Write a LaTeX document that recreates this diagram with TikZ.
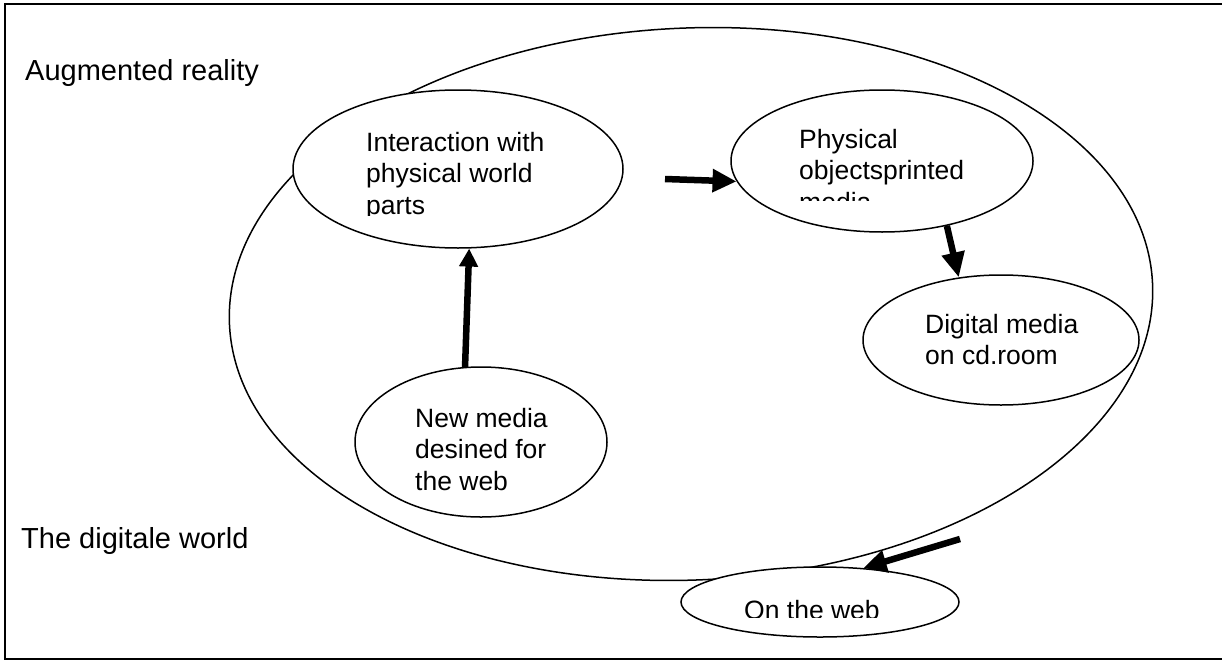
\documentclass[tikz,border=0pt]{standalone}
\usepackage{fontspec}
\setmainfont{Liberation Sans}
\usetikzlibrary{shapes.geometric, arrows.meta, positioning, calc}

\begin{document}
\begin{tikzpicture}[x=1pt, y=-1pt,
    bubble/.style={draw, ellipse, line width=1.5pt, inner sep=0pt},
    bubbletext/.style={anchor=base west, inner sep=0pt, align=left, font=\fontsize{26.5}{31.5}\selectfont},
    sidelabel/.style={anchor=base west, inner sep=0pt, font=\fontsize{29}{35}\selectfont},
    flow/.style={line width=6.5pt, -{Triangle[length=23pt, width=22pt]}}]
  \useasboundingbox (0,0) rectangle (1222,661);
  % frame, open on the right
  \draw[line width=2pt] (1222,4) -- (5,4) -- (5,659) -- (1222,659);

  % the two worlds
  \node[bubble, minimum width=924pt, minimum height=552pt, rotate=2.5] (world) at (691,304) {};
  \node[sidelabel] (augm) at (25,80) {Augmented reality};
  \node[sidelabel] (digw) at (21,548) {The digitale world};

  % media bubbles
  \node[bubble, fill=white, minimum width=330pt, minimum height=158pt] (inter) at (458,169) {};
  \node[bubble, fill=white, minimum width=302pt, minimum height=142pt] (phys) at (882,161) {};
  \node[bubble, fill=white, minimum width=276pt, minimum height=130pt] (digi) at (1001,340) {};
  \node[bubble, fill=white, minimum width=252pt, minimum height=150pt] (newm) at (481,442) {};
  \node[bubble, fill=white, minimum width=278pt, minimum height=70pt] (web) at (820,602) {};

  \begin{scope}
    \clip (360,100) rectangle (640,215);
    \node[bubbletext] (intertext) at (366,214) {Interaction with\\physical world\\parts};
  \end{scope}
  \begin{scope}
    \clip (790,100) rectangle (1020,200);
    \node[bubbletext] (physext) at (799,211) {Physical\\objectsprinted\\media};
  \end{scope}
  \node[bubbletext] (digitext) at (925,364.5) {Digital media\\on cd.room};
  \node[bubbletext] (newmtext) at (415,490) {New media\\desined for\\the web};
  \begin{scope}
    \clip (730,570) rectangle (950,617);
    \node[bubbletext] (webtext) at (744,619) {On the web};
  \end{scope}

  % arrows
  \coordinate (a1) at (665,179);
  \coordinate (a4) at (960,539);
  \draw[flow, -{Triangle[length=24pt, width=22pt]}] (a1) -- (phys.188);
  \draw[flow, -{Triangle[length=25pt, width=22pt]}] (phys.-45) -- (digi.124);
  \draw[flow, -{Triangle[length=18pt, width=18pt]}] (newm.102) -- (inter.-82);
  \draw[flow] (a4) -- (web.38);
\end{tikzpicture}
\end{document}
